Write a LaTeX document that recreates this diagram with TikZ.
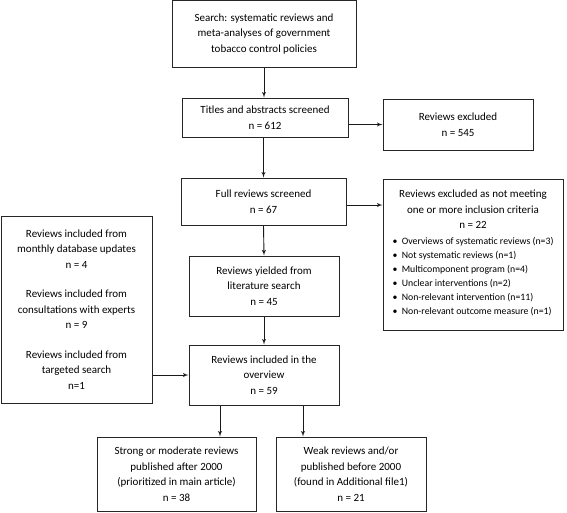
\documentclass[tikz,border=0pt]{standalone}
\usepackage{fontspec}
\setmainfont{Carlito}
\usetikzlibrary{arrows}
\newcommand{\listfont}{\fontsize{9.8}{14}\selectfont}

\begin{document}
\begin{tikzpicture}[x=1pt,y=-1pt,
  box/.style={draw=black!85,line width=1pt,align=center,inner sep=2pt,
    font=\fontsize{11}{15.5}\selectfont},
  edge/.style={line width=0.9pt,black!90,arrows={-latex'}}]
\useasboundingbox (0,0) rectangle (567,512);

% main column
\node[box,minimum width=184pt,minimum height=67pt] (search) at (264,34)
  {Search: systematic reviews and\\ meta-analyses of government\\ tobacco control policies};
\node[box,minimum width=166pt,minimum height=39pt] (titles) at (265,117.5)
  {Titles and abstracts screened\\ n = 612};
\node[box,minimum width=165pt,minimum height=47pt] (full) at (263.5,201.5)
  {Full reviews screened\\ n = 67};
\node[box,minimum width=150pt,minimum height=60pt] (yielded) at (264,286)
  {Reviews yielded from\\ literature search\\ n = 45};
\node[box,minimum width=150pt,minimum height=60pt] (overview) at (264,375)
  {Reviews included in the\\ overview\\ n = 59};

% exclusions
\node[box,minimum width=150pt,minimum height=51pt] (excl) at (458,124.5)
  {Reviews excluded\\ n = 545};
\node[box,minimum width=180pt,minimum height=151pt] (crit) at (473,254.5)
  {Reviews excluded as not meeting\\ one or more inclusion criteria\\ n = 22\\[5pt]
  {\listfont\begin{tabular}{@{}l@{}}
  \textbullet\ \ Overviews of systematic reviews (n=3)\\
  \textbullet\ \ Not systematic reviews (n=1)\\
  \textbullet\ \ Multicomponent program (n=4)\\
  \textbullet\ \ Unclear interventions (n=2)\\
  \textbullet\ \ Non-relevant intervention (n=11)\\
  \textbullet\ \ Non-relevant outcome measure (n=1)
  \end{tabular}}};

% other sources
\node[box,minimum width=151pt,minimum height=187pt] (extra) at (76.5,309.5)
  {Reviews included from\\ monthly database updates\\ n = 4\\[14pt]
   Reviews included from\\ consultations with experts\\ n = 9\\[14pt]
   Reviews included from\\ targeted search\\ n=1};

% results
\node[box,minimum width=159pt,minimum height=74pt] (strong) at (176.5,474)
  {Strong or moderate reviews\\ published after 2000\\ (prioritized in main article)\\ n = 38};
\node[box,minimum width=150pt,minimum height=74pt] (weak) at (351,474)
  {Weak reviews and/or\\ published before 2000\\ (found in Additional file1)\\ n = 21};

\coordinate (splitA) at ([xshift=-44pt]overview.south);
\coordinate (splitB) at ([xshift=39pt]overview.south);

\draw[edge] (search.south) -- (search.south |- titles.north);
\draw[edge] (titles.east |- excl.west) -- (excl.west);
\draw[edge] (titles.south -| full.north) -- (full.north);
\draw[edge] ([yshift=-3.5pt]full.east) -- ([yshift=-3.5pt]full.east -| crit.west);
\draw[edge] (full.south) -- (yielded.north);
\draw[edge] (yielded.south) -- (overview.north);
\draw[edge] (extra.east |- overview.west) -- (overview.west);
\draw[edge] (splitA) -- (splitA |- strong.north);
\draw[edge] (splitB) -- (splitB |- weak.north);

\end{tikzpicture}
\end{document}
